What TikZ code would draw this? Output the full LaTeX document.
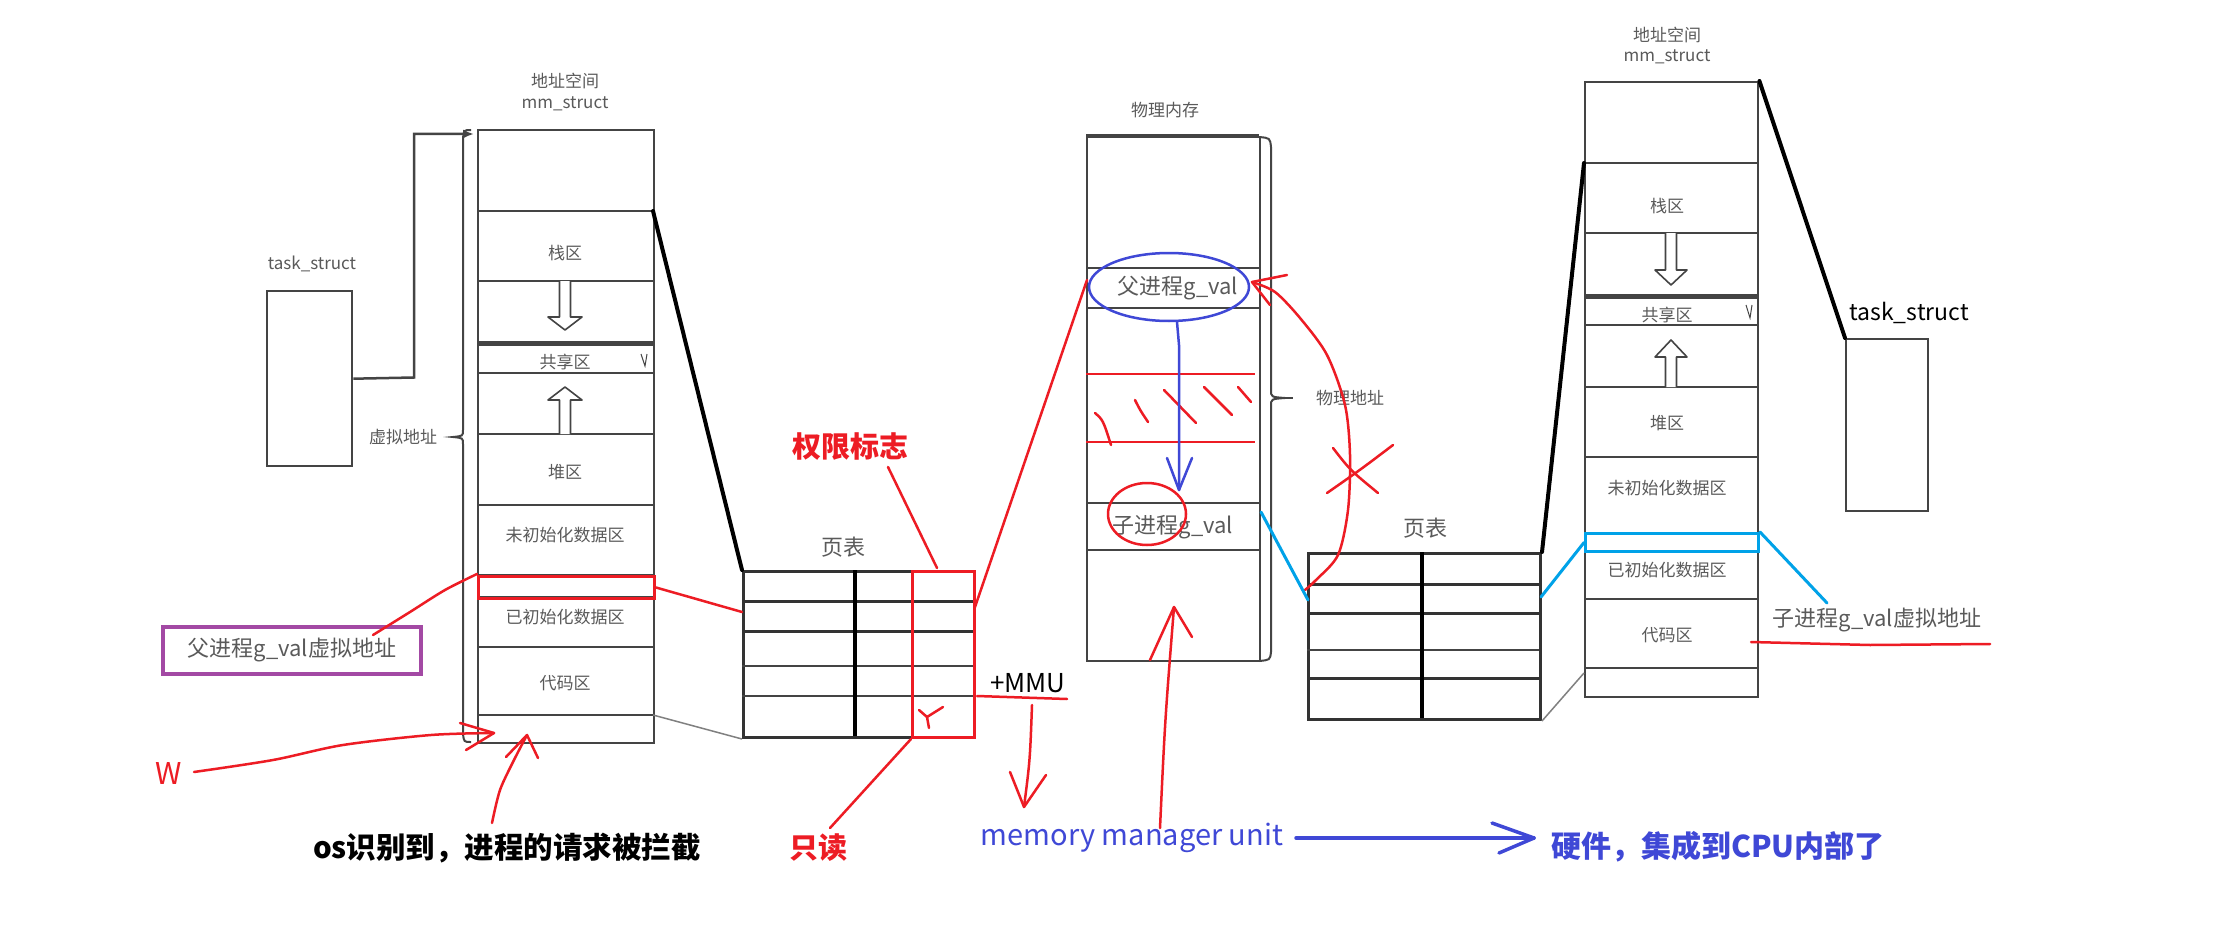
\documentclass[tikz,border=0pt]{standalone}
\usepackage{fontspec}
\setmainfont{Noto Sans CJK SC}
\usetikzlibrary{arrows.meta}
\definecolor{boxline}{RGB}{68,68,68}
\definecolor{lblc}{RGB}{90,90,90}
\definecolor{hred}{RGB}{237,28,36}
\definecolor{hblue}{RGB}{63,72,214}
\definecolor{hcyan}{RGB}{0,162,232}
\definecolor{hpurple}{RGB}{163,73,164}
\newcommand{\setfs}[1]{\fontsize{#1}{#1}\selectfont}
\begin{document}
\begin{tikzpicture}[x=1pt,y=-1pt,
  box/.style={draw=boxline, line width=2.4pt, inner sep=0pt, anchor=north west},
  rowline/.style={draw=boxline, line width=2pt},
  fatrow/.style={draw=boxline, line width=5pt},
  lbl/.style={text=lblc, font=\setfs{17}, inner sep=0pt},
  biglbl/.style={text=lblc, font=\setfs{22}, inner sep=0pt},
  hand/.style={draw=hred, line width=2.5pt, line cap=round, line join=round},
  conn/.style={draw=black, line width=4pt, line cap=round},
  thinconn/.style={draw=gray, line width=1.5pt},
  cyanl/.style={draw=hcyan, line width=3pt, line cap=round, line join=round},
  hollow/.style={draw=boxline, line width=1.6pt, fill=white, line join=round},
  bracel/.style={draw=boxline, line width=2pt}
]
\useasboundingbox (0,0) rectangle (2221,944);
\fill[white] (0,0) rectangle (2221,944);

% ---------------- left task_struct & mm_struct ----------------
\node[box, minimum width=85pt, minimum height=175pt] (Ltask) at (266,290) {};
\node[lbl] (LtaskL) at (312,264) {task\_struct};
\node[box, minimum width=176pt, minimum height=613pt] (Lmm) at (477,129) {};
\node[lbl] (Lh1) at (565,81) {地址空间};
\node[lbl] (Lh2) at (565,104) {mm\_struct};
\foreach \yy in {211,281,373,434,505,575,597,647}{\draw[rowline] (477,\yy) -- (653,\yy);}
\draw[rowline, line width=1.5pt] (477,715) -- (653,715);
\draw[fatrow] (477,343) -- (653,343);
\node[lbl] (Lstack) at (565,253) {栈区};
\node[lbl] (Lshare) at (565,362) {共享区};
\node[lbl] (Lheap) at (565,472) {堆区};
\node[lbl] (Lbss) at (565,535) {未初始化数据区};
\node[lbl] (Ldata) at (565,617) {已初始化数据区};
\node[lbl] (Lcode) at (565,683) {代码区};
\draw[boxline, line width=1pt] (641,354) -- (645,366) -- (647,354);
\draw[hollow] (559.5,281) -- (559.5,317) -- (548,317) -- (565,330) -- (582,317) -- (570.5,317) -- (570.5,281);
\draw[hollow] (559.5,434) -- (559.5,400) -- (548,400) -- (565,387) -- (582,400) -- (570.5,400) -- (570.5,434);
% brace
\draw[bracel] (471,130) .. controls (464,130) .. (463,138) -- (463,430) .. controls (463,436) .. (453,437) .. controls (463,438) .. (463,444) -- (463,734) .. controls (464,742) .. (471,742);
\node[lbl] (Lvaddr) at (403,437) {虚拟地址};
% task -> mm connector
\coordinate (LmmIn) at (474,134);
\draw[draw=boxline, line width=2.5pt, -{Latex[length=11pt,width=9pt]}] (Ltask.east) -- (414,377.5) -- (414,134) -- (LmmIn);

% red rect & purple label
\node[draw=hred, line width=3pt, minimum width=176pt, minimum height=22pt, inner sep=0pt, anchor=north west] (Lred) at (477,575) {};
\node[draw=hpurple, line width=3.5pt, minimum width=258pt, minimum height=47pt, inner sep=0pt, text=lblc, font=\setfs{22}] (Pbox) at (292,650.5) {父进程g\_val虚拟地址};
\draw[hand] plot[smooth] coordinates {(373,635) (410,612) (445,590) (477,574)};

% ---------------- left page table ----------------
\node[box, line width=3pt, draw=black!80, minimum width=231pt, minimum height=166pt] (Lpt) at (742,570) {};
\foreach \yy in {601,631}{\draw[draw=black!80, line width=3pt] (742,\yy) -- (973,\yy);}
\foreach \yy in {666,696}{\draw[draw=boxline, line width=2pt] (742,\yy) -- (973,\yy);}
\draw[draw=black, line width=3.5pt] (855,570) -- (855,736);
\node[draw=hred, line width=3pt, minimum width=62pt, minimum height=166pt, inner sep=0pt, anchor=north west] (Lflag) at (911,570) {};
\node[text=lblc, font=\setfs{22}, inner sep=0pt] (Lptl) at (843,547) {页表};
\draw[hand] (919,710) -- (927,717) -- (929,728);
\draw[hand] (927,717) -- (943,707);

% connectors mm -> page table
\draw[conn] (653,211) -- (Lpt.north west);
\draw[thinconn] (653,715) -- (Lpt.south west);
\draw[hand] (Lred.east) -- (742,612);

% labels red
\node[text=hred, font=\bfseries\setfs{29}, inner sep=0pt] (Lquan) at (850,447) {权限标志};
\draw[hand] (888,467) -- (937,568);
\node[text=hred, font=\bfseries\setfs{29}, inner sep=0pt] (Lro) at (818,848) {只读};
\draw[hand] (830,828) -- (Lflag.south west);
\node[text=black, font=\setfs{26}, inner sep=0pt] (Lmmu) at (1028,683) {+MMU};
\draw[hand] (977,696) -- (1067,699);
\draw[hand] (1032,705) .. controls (1030,760) .. (1024,807);
\draw[hand] (1010,772) -- (1024,807) -- (1046,775);

% ---------------- physical memory ----------------
\node[box, minimum width=173pt, minimum height=524pt] (Phys) at (1086,136) {};
\draw[draw=boxline, line width=4pt] (1086,136) -- (1259,136);
\node[lbl] (Physl) at (1165,110) {物理内存};
\foreach \yy in {268,308,503,550}{\draw[rowline] (1086,\yy) -- (1259,\yy);}
\node[biglbl] (Pfa) at (1178,288) {父进程g\_val};
\node[biglbl] (Pch) at (1173,527) {子进程g\_val};
\draw[bracel] (1259,137) .. controls (1270,138) .. (1271,147) -- (1271,390) .. controls (1271,397) .. (1285,398) .. controls (1271,399) .. (1271,406) -- (1271,652) .. controls (1270,660) .. (1259,661);
\draw[bracel] (1285,398) -- (1293,398);
\node[lbl] (Paddr) at (1350,398) {物理地址};
% hatch
\draw[draw=hred, line width=2pt] (1086,374) -- (1255,374);
\draw[draw=hred, line width=2pt] (1086,442) -- (1255,442);
\draw[hand] (1095,413) .. controls (1103,420) .. (1111,445);
\draw[hand] (1135,400) .. controls (1140,410) .. (1148,422);
\draw[hand] (1164,390) -- (1196,423);
\draw[hand] (1204,387) -- (1232,415);
\draw[hand] (1238,387) -- (1251,402);
% blue ellipse + arrow
\draw[draw=hblue, line width=2.5pt] (1169,287) ellipse [x radius=80, y radius=34];
\draw[draw=hblue, line width=2.5pt, line cap=round, line join=round] (1177,322) -- (1179,345) -- (1179,490);
\draw[draw=hblue, line width=2.5pt, line cap=round, line join=round] (1167,458) -- (1179,490) -- (1192,458);
% red circle child
\draw[hand] (1147,514) ellipse [x radius=39, y radius=31];
% page table -> phys
\draw[hand] (975,607) -- (1087,280);
% red arrow from below
\draw[hand] (1160,828) .. controls (1165,720) .. (1174,607);
\draw[hand] (1150,660) -- (1174,607) -- (1192,637);

% ---------------- right page table ----------------
\node[box, line width=3pt, draw=black!80, minimum width=232pt, minimum height=166pt] (Rpt) at (1307,552) {};
\foreach \yy in {584,613,678}{\draw[draw=black!80, line width=3pt] (1307,\yy) -- (1539,\yy);}
\draw[draw=boxline, line width=2pt] (1307,650) -- (1539,650);
\draw[draw=black, line width=3.5pt] (1422,552) -- (1422,718);
\node[text=lblc, font=\setfs{22}, inner sep=0pt] (Rptl) at (1425,528) {页表};

% red curve phys <- right pt
\draw[hand] plot[smooth] coordinates {(1252,282) (1275,292) (1300,318) (1327,355) (1345,405) (1350,455) (1348,510) (1338,555) (1316,580) (1305,590)};
\draw[hand] (1287,275) -- (1252,282) -- (1270,305);
% X mark
\draw[hand] (1333,448) .. controls (1350,470) .. (1378,493);
\draw[hand] (1327,493) .. controls (1360,470) .. (1393,445);

% ---------------- right mm_struct ----------------
\node[box, minimum width=173pt, minimum height=615pt] (Rmm) at (1584,81) {};
\node[lbl] (Rh1) at (1667,35) {地址空间};
\node[lbl] (Rh2) at (1667,57) {mm\_struct};
\foreach \yy in {163,233,325,387,457,599,668}{\draw[rowline] (1584,\yy) -- (1757,\yy);}
\draw[fatrow] (1584,296) -- (1757,296);
\node[lbl] (Rstack) at (1667,206) {栈区};
\node[lbl] (Rshare) at (1667,315) {共享区};
\node[lbl] (Rheap) at (1667,423) {堆区};
\node[lbl] (Rbss) at (1667,488) {未初始化数据区};
\node[lbl] (Rdata) at (1667,570) {已初始化数据区};
\node[lbl] (Rcode) at (1667,635) {代码区};
\draw[boxline, line width=1pt] (1746,305) -- (1750,318) -- (1752,305);
\draw[hollow] (1665.5,233) -- (1665.5,270) -- (1655,270) -- (1671,285) -- (1687,270) -- (1676.5,270) -- (1676.5,233);
\draw[hollow] (1665.5,387) -- (1665.5,357) -- (1655,357) -- (1671,340) -- (1687,357) -- (1676.5,357) -- (1676.5,387);
\node[draw=hcyan, line width=3pt, minimum width=173pt, minimum height=18pt, inner sep=0pt, anchor=north west] (Rcyan) at (1584,532) {};

\draw[conn] (Rpt.north east) -- (1584,163);
\draw[thinconn] (Rpt.south east) -- (1584,673);
% cyan connectors
\draw[cyanl] (1261,512) -- (1308,600);
\draw[cyanl] (1541,597) -- (Rcyan.west);
\draw[cyanl] (Rcyan.north east) -- (1827,603);

% right task_struct
\node[box, minimum width=82pt, minimum height=172pt] (Rtask) at (1845,338) {};
\node[text=black, font=\setfs{23}, inner sep=0pt] (RtaskL) at (1909,313) {task\_struct};
\draw[conn] (Rmm.north east) -- (Rtask.north west);

\node[text=lblc, font=\setfs{22}, inner sep=0pt] (Rvaddr) at (1877,620) {子进程g\_val虚拟地址};
\draw[hand] (1751,642) -- (1870,645) -- (1990,644);

% ---------------- bottom texts ----------------
\node[text=hred, font=\setfs{30}, inner sep=0pt] (W) at (169,773) {W};
\draw[hand] plot[smooth] coordinates {(194,772) (273,760) (343,745) (431,735) (494,733)};
\draw[hand] (460,723) -- (494,733) -- (466,750);
\node[text=black, font=\bfseries\setfs{29.5}, inner sep=0pt] (Os) at (507,848) {os识别到，进程的请求被拦截};
\draw[hand] plot[smooth] coordinates {(492,823) (500,790) (514,760) (527,735)};
\draw[hand] (506,757) -- (527,735) -- (538,758);
\node[text=hblue, font=\setfs{29}, inner sep=0pt] (Mmu) at (1132,838) {memory manager unit};
\node[text=hblue, font=\bfseries\setfs{30}, inner sep=0pt] (Hw) at (1718,847) {硬件，集成到CPU内部了};
\draw[draw=hblue, line width=3.5pt, line cap=round] (1296,838) -- (1534,838);
\draw[draw=hblue, line width=3.5pt, line cap=round, line join=round] (1492,823) -- (1534,838) -- (1499,853);
\end{tikzpicture}
\end{document}
